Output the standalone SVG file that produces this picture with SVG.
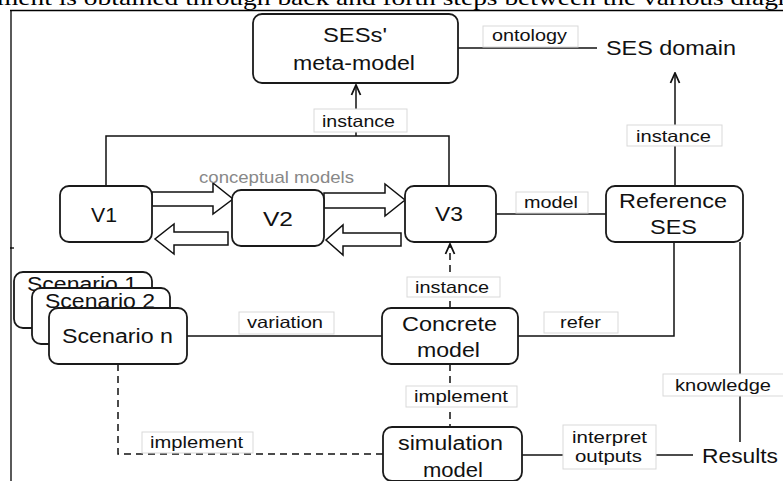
<svg xmlns="http://www.w3.org/2000/svg" width="783" height="481" viewBox="0 0 783 481">
<style>
.node{fill:#fff;stroke:#1a1a1a;stroke-width:1.8}
.nt{font-family:"Liberation Sans",Arial,sans-serif;font-size:19.5px;fill:#111}
.lb{fill:#fff;stroke:#d9d9d9;stroke-width:1}
.lt{font-family:"Liberation Sans",Arial,sans-serif;font-size:16.5px;fill:#111}
.ln{fill:none;stroke:#111;stroke-width:1.5}
.dash{stroke-dasharray:7 5}
.blk{fill:#fff;stroke:#111;stroke-width:1.5;stroke-linejoin:miter}
.frame{stroke:#000;stroke-width:1.3;fill:none}
</style>
<defs>
<marker id="arr" viewBox="0 0 12 12" refX="11" refY="6" markerWidth="12" markerHeight="12" markerUnits="userSpaceOnUse" orient="auto">
<path d="M1,1.5 L11,6 L1,10.5" fill="none" stroke="#111" stroke-width="1.8"/>
</marker>
</defs>
<rect width="783" height="481" fill="#fff"/>
<text x="-3" y="4.5" font-family="Liberation Serif,'Times New Roman',serif" font-size="22" fill="#000" textLength="790" lengthAdjust="spacingAndGlyphs">ment is obtained through back and forth steps between the various diagr</text>
<g id="frame">
<line class="frame" x1="10" y1="10.5" x2="783" y2="10.5"/>
<line class="frame" x1="11" y1="10" x2="11" y2="481"/>
<line class="frame" x1="10" y1="248" x2="14" y2="248"/>
</g>
<g id="connectors">
<line class="ln" x1="458" y1="48" x2="597" y2="48"/>
<polyline class="ln" points="106,186 106,136 449,136 449,186"/>
<line class="ln" x1="356" y1="136" x2="356" y2="85" marker-end="url(#arr)"/>
<line class="ln" x1="675" y1="186" x2="675" y2="73" marker-end="url(#arr)"/>
<line class="ln" x1="496" y1="214" x2="606" y2="214"/>
<line class="ln dash" x1="450" y1="308" x2="450" y2="244" marker-end="url(#arr)"/>
<line class="ln" x1="187" y1="336" x2="382" y2="336"/>
<polyline class="ln" points="518,336 674,336 674,242"/>
<line class="ln dash" x1="450" y1="364" x2="450" y2="427"/>
<polyline class="ln dash" points="118,364 118,454 383,454"/>
<line class="ln" x1="522" y1="455" x2="693" y2="455"/>
<line class="ln" x1="740" y1="242" x2="740" y2="442"/>
<polygon class="blk" points="152,192 213,192 213,183 233,199 213,214 213,206 152,206"/>
<polygon class="blk" points="324,193 385,193 385,184 405,200 385,216 385,208 324,208"/>
<polygon class="blk" points="228,232 174,232 174,224 155,239 174,254 174,245 228,245"/>
<polygon class="blk" points="401,233 343,233 343,225 326,240 343,255 343,246 401,246"/>
<text x="199" y="183" font-family="Liberation Sans,Arial,sans-serif" font-size="17" fill="#888" textLength="155" lengthAdjust="spacingAndGlyphs">conceptual models</text>
<g id="labels">
<rect class="lb" x="483" y="26" width="95" height="21"/>
<text class="lt" x="492" y="41" textLength="75" lengthAdjust="spacingAndGlyphs">ontology</text>
<rect class="lb" x="314" y="109" width="93" height="23"/>
<text class="lt" x="322" y="127" textLength="73" lengthAdjust="spacingAndGlyphs">instance</text>
<rect class="lb" x="627" y="125" width="95" height="21"/>
<text class="lt" x="636" y="142" textLength="75" lengthAdjust="spacingAndGlyphs">instance</text>
<rect class="lb" x="516" y="192" width="72" height="21"/>
<text class="lt" x="524" y="208" textLength="54" lengthAdjust="spacingAndGlyphs">model</text>
<rect class="lb" x="407" y="277" width="93" height="20"/>
<text class="lt" x="415" y="293" textLength="74" lengthAdjust="spacingAndGlyphs">instance</text>
<rect class="lb" x="239" y="312" width="95" height="22"/>
<text class="lt" x="247" y="328" textLength="76" lengthAdjust="spacingAndGlyphs">variation</text>
<rect class="lb" x="544" y="312" width="74" height="21"/>
<text class="lt" x="560" y="328" textLength="41" lengthAdjust="spacingAndGlyphs">refer</text>
<rect class="lb" x="406" y="386" width="111" height="21"/>
<text class="lt" x="414" y="402" textLength="94" lengthAdjust="spacingAndGlyphs">implement</text>
<rect class="lb" x="142" y="432" width="111" height="21"/>
<text class="lt" x="150" y="448" textLength="93" lengthAdjust="spacingAndGlyphs">implement</text>
<rect class="lb" x="663" y="374" width="121" height="22"/>
<text class="lt" x="675" y="391" textLength="96" lengthAdjust="spacingAndGlyphs">knowledge</text>
<rect class="lb" x="563" y="425" width="93" height="44"/>
<text class="lt" x="572" y="443" textLength="75" lengthAdjust="spacingAndGlyphs">interpret</text>
<text class="lt" x="575" y="462" textLength="67" lengthAdjust="spacingAndGlyphs">outputs</text>
</g>
</g>
<g id="meta-model">
<rect class="node" x="253" y="14" width="205" height="69" rx="9"/>
<text class="nt" x="323" y="42" textLength="64" lengthAdjust="spacingAndGlyphs">SESs'</text>
<text class="nt" x="293" y="70" textLength="122" lengthAdjust="spacingAndGlyphs">meta-model</text>
</g>
<g id="ses-domain">
<text class="nt" x="606" y="55" textLength="130" lengthAdjust="spacingAndGlyphs">SES domain</text>
</g>
<g id="v1">
<rect class="node" x="60" y="186" width="92" height="56" rx="9"/>
<text class="nt" x="91" y="222" textLength="26" lengthAdjust="spacingAndGlyphs">V1</text>
</g>
<g id="v2">
<rect class="node" x="232" y="190" width="92" height="56" rx="9"/>
<text class="nt" x="263" y="226" textLength="30" lengthAdjust="spacingAndGlyphs">V2</text>
</g>
<g id="v3">
<rect class="node" x="405" y="186" width="91" height="56" rx="9"/>
<text class="nt" x="435" y="221" textLength="28" lengthAdjust="spacingAndGlyphs">V3</text>
</g>
<g id="reference-ses">
<rect class="node" x="606" y="186" width="137" height="56" rx="9"/>
<text class="nt" x="619" y="208" textLength="108" lengthAdjust="spacingAndGlyphs">Reference</text>
<text class="nt" x="650" y="234" textLength="47" lengthAdjust="spacingAndGlyphs">SES</text>
</g>
<g id="scenario-1">
<rect class="node" x="14" y="272" width="138" height="56" rx="9"/>
<text class="nt" x="27" y="291" textLength="110" lengthAdjust="spacingAndGlyphs">Scenario 1</text>
</g>
<g id="scenario-2">
<rect class="node" x="32" y="288" width="138" height="56" rx="9"/>
<text class="nt" x="45" y="308" textLength="110" lengthAdjust="spacingAndGlyphs">Scenario 2</text>
</g>
<g id="scenario-n">
<rect class="node" x="49" y="308" width="138" height="56" rx="9"/>
<text class="nt" x="62" y="343" textLength="111" lengthAdjust="spacingAndGlyphs">Scenario n</text>
</g>
<g id="concrete-model">
<rect class="node" x="382" y="308" width="136" height="56" rx="9"/>
<text class="nt" x="402" y="331" textLength="95" lengthAdjust="spacingAndGlyphs">Concrete</text>
<text class="nt" x="417" y="357" textLength="63" lengthAdjust="spacingAndGlyphs">model</text>
</g>
<g id="simulation-model">
<rect class="node" x="383" y="427" width="139" height="54" rx="9"/>
<text class="nt" x="398" y="450" textLength="105" lengthAdjust="spacingAndGlyphs">simulation</text>
<text class="nt" x="423" y="477" textLength="60" lengthAdjust="spacingAndGlyphs">model</text>
</g>
<g id="results">
<text class="nt" x="702" y="463" textLength="76" lengthAdjust="spacingAndGlyphs">Results</text>
</g>
</svg>
